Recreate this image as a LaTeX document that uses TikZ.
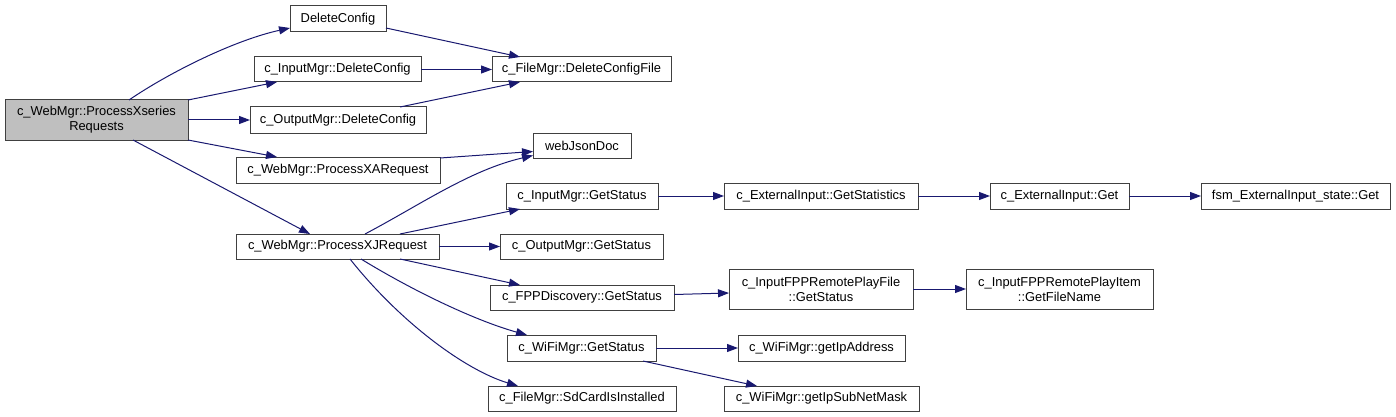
\documentclass[tikz,border=0pt]{standalone}
\usepackage{fontspec}
\setmainfont{Liberation Sans}
\usetikzlibrary{arrows.meta}
\definecolor{edgeblue}{HTML}{191970}
\definecolor{rootgray}{HTML}{BFBFBF}
\begin{document}
\begin{tikzpicture}[x=1pt,y=-1pt,
  box/.style={draw=black!75, line width=1pt, fill=white, inner sep=0pt, outer sep=0pt, align=center,
    font=\fontsize{12.9}{15}\selectfont},
  edge/.style={draw=edgeblue, line width=1pt, -{Triangle[length=11pt,width=8pt]}}]
\useasboundingbox (0,0) rectangle (1396,417);
% nodes
\node[box, fill=rootgray, minimum width=183pt, minimum height=40pt] (root) at (96.5,120) {c\_WebMgr::ProcessXseries\\Requests};
\node[box, minimum width=96pt, minimum height=26pt] (dc) at (338,19) {DeleteConfig};
\node[box, minimum width=167pt, minimum height=25pt] (imdc) at (337.5,69.5) {c\_InputMgr::DeleteConfig};
\node[box, minimum width=176pt, minimum height=26pt] (omdc) at (338,120) {c\_OutputMgr::DeleteConfig};
\node[box, minimum width=204pt, minimum height=26pt] (xa) at (338,170) {c\_WebMgr::ProcessXARequest};
\node[box, minimum width=203pt, minimum height=25pt] (xj) at (337.5,246.5) {c\_WebMgr::ProcessXJRequest};
\node[box, minimum width=179pt, minimum height=25pt] (dcf) at (581.5,69.5) {c\_FileMgr::DeleteConfigFile};
\node[box, minimum width=98pt, minimum height=25pt] (wjd) at (582,145.5) {webJsonDoc};
\node[box, minimum width=152pt, minimum height=26pt] (imgs) at (582,196) {c\_InputMgr::GetStatus};
\node[box, minimum width=194pt, minimum height=26pt] (stats) at (821,196) {c\_ExternalInput::GetStatistics};
\node[box, minimum width=163pt, minimum height=25pt] (omgs) at (581.5,246.5) {c\_OutputMgr::GetStatus};
\node[box, minimum width=184pt, minimum height=25pt] (fpp) at (582,297.5) {c\_FPPDiscovery::GetStatus};
\node[box, minimum width=184pt, minimum height=40pt] (rpf) at (821,289) {c\_InputFPPRemotePlayFile\\::GetStatus};
\node[box, minimum width=149pt, minimum height=26pt] (wifi) at (581.5,348) {c\_WiFiMgr::GetStatus};
\node[box, minimum width=167pt, minimum height=26pt] (ipaddr) at (821.5,348) {c\_WiFiMgr::getIpAddress};
\node[box, minimum width=188pt, minimum height=25pt] (sd) at (582,398.5) {c\_FileMgr::SdCardIsInstalled};
\node[box, minimum width=195pt, minimum height=25pt] (mask) at (821.5,398.5) {c\_WiFiMgr::getIpSubNetMask};
\node[box, minimum width=139pt, minimum height=26pt] (eiget) at (1059.5,196) {c\_ExternalInput::Get};
\node[box, minimum width=189pt, minimum height=26pt] (fsm) at (1295.5,196) {fsm\_ExternalInput\_state::Get};
\node[box, minimum width=187pt, minimum height=40pt] (rpi) at (1059.5,289) {c\_InputFPPRemotePlayItem\\::GetFileName};
% edges
\draw[edge] ([xshift=124pt]root.north west) .. controls (170,72) and (235,40) .. ([yshift=-9pt]dc.west);
\draw[edge] (root.north east) -- ([xshift=23pt]imdc.south west);
\draw[edge] (root.east) -- (omdc.west);
\draw[edge] (root.south east) -- ([xshift=41pt]xa.north west);
\draw[edge] ([xshift=128pt]root.south west) -- ([xshift=74pt]xj.north west);
\draw[edge] ([yshift=-9pt]dc.east) -- ([xshift=28pt]dcf.north west);
\draw[edge] (imdc.east) -- (dcf.west);
\draw[edge] ([xshift=150pt]omdc.north west) -- ([xshift=28pt]dcf.south west);
\draw[edge] ([yshift=12pt]xa.east) -- ([yshift=-6pt]wjd.west);
\draw[edge] ([xshift=129pt]xj.north west) .. controls (420,205) and (470,170) .. ([yshift=-10pt]wjd.west);
\draw[edge] ([xshift=164pt]xj.north west) -- ([xshift=14pt]imgs.south west);
\draw[edge] (xj.east) -- (omgs.west);
\draw[edge] ([xshift=164pt]xj.south west) -- ([xshift=30pt]fpp.north west);
\draw[edge] ([xshift=125pt]xj.south west) .. controls (420,295) and (480,322) .. ([xshift=20pt]wifi.north west);
\draw[edge] ([xshift=114pt]xj.south west) .. controls (400,322) and (465,370) .. ([xshift=30pt]sd.north west);
\draw[edge] (imgs.east) -- (stats.west);
\draw[edge] (stats.east) -- (eiget.west);
\draw[edge] (eiget.east) -- (fsm.west);
\draw[edge] ([yshift=3pt]fpp.east) -- ([yshift=-4pt]rpf.west);
\draw[edge] (rpf.east) -- (rpi.west);
\draw[edge] (wifi.east) -- (ipaddr.west);
\draw[edge] ([xshift=136pt]wifi.south west) -- ([xshift=33pt]mask.north west);
\end{tikzpicture}
\end{document}
